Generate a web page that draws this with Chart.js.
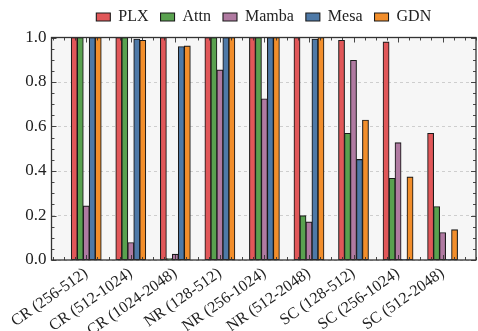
<!DOCTYPE html>
<html>
<head>
<meta charset="utf-8">
<script src="https://cdn.jsdelivr.net/npm/chart.js@4/dist/chart.umd.min.js"></script>
<style>
  html, body { margin: 0; padding: 0; background: #ffffff; }
  canvas { display: block; }
</style>
</head>
<body>
<canvas id="chart" width="478" height="331"></canvas>
<script>
// Task categories (task name with sequence-length range)
const categories = [
  'CR (256-512)', 'CR (512-1024)', 'CR (1024-2048)',
  'NR (128-512)', 'NR (256-1024)', 'NR (512-2048)',
  'SC (128-512)', 'SC (256-1024)', 'SC (512-2048)'
];

// Accuracy per model
const plx   = [1.000, 1.000, 1.000, 1.000, 1.000, 1.000, 0.987, 0.980, 0.569];
const attn  = [1.000, 1.000, 0.006, 1.000, 1.000, 0.199, 0.569, 0.367, 0.240];
const mamba = [0.243, 0.078, 0.026, 0.854, 0.724, 0.171, 0.897, 0.527, 0.123];
const mesa  = [1.000, 0.993, 0.959, 1.000, 1.000, 0.993, 0.452, 0.003, 0.003];
const gdn   = [1.000, 0.987, 0.962, 1.000, 1.000, 1.000, 0.629, 0.373, 0.136];

const seriesNames = ['PLX', 'Attn', 'Mamba', 'Mesa', 'GDN'];
const seriesValues = [plx, attn, mamba, mesa, gdn];
const seriesColors = ['#e15759', '#59a14f', '#b07aa1', '#4e79a7', '#f28e2b'];

// Y axis tick labels
const yTickValues = [0, 0.2, 0.4, 0.6, 0.8, 1.0];

const X_MIN = -0.78, X_MAX = 8.75;
const FRAME = '#333333';

// Light panel behind the plot area
const panelBackground = {
  id: 'panelBackground',
  beforeDraw(chart) {
    const { ctx, chartArea: a } = chart;
    ctx.save();
    ctx.fillStyle = '#f6f6f6';
    ctx.fillRect(a.left, a.top, a.right - a.left, a.bottom - a.top);
    ctx.restore();
  }
};

// Box frame with inward major/minor ticks on all four sides
const frameTicks = {
  id: 'frameTicks',
  afterDatasetsDraw(chart) {
    const { ctx, chartArea: a, scales } = chart;
    const xs = scales.x, ys = scales.y;
    ctx.save();
    ctx.strokeStyle = FRAME;
    ctx.lineWidth = 0.9;
    ctx.beginPath();
    // y ticks (major every 0.2, minor every 0.05)
    for (let k = 0; k <= 20; k++) {
      const v = k * 0.05;
      const len = (k % 4 === 0) ? 5 : 3;
      const py = Math.round(ys.getPixelForValue(v)) + 0.5;
      ctx.moveTo(a.left, py); ctx.lineTo(a.left + len, py);
      ctx.moveTo(a.right, py); ctx.lineTo(a.right - len, py);
    }
    // x ticks (major at each category, minor every quarter)
    for (let k = Math.ceil(X_MIN * 4); k <= Math.floor(X_MAX * 4); k++) {
      const v = k / 4;
      const len = (k % 4 === 0) ? 5 : 3;
      const px = Math.round(xs.getPixelForValue(v)) + 0.5;
      ctx.moveTo(px, a.bottom); ctx.lineTo(px, a.bottom - len);
      ctx.moveTo(px, a.top); ctx.lineTo(px, a.top + len);
    }
    ctx.stroke();
    ctx.lineWidth = 1.3;
    ctx.strokeRect(a.left, a.top, a.right - a.left, a.bottom - a.top);
    ctx.restore();
  }
};

Chart.defaults.font.family = "'Liberation Serif', 'Times New Roman', serif";
Chart.defaults.color = '#222222';

new Chart(document.getElementById('chart'), {
  type: 'bar',
  data: {
    datasets: seriesNames.map((name, s) => ({
      label: name,
      data: seriesValues[s].map((v, i) => ({ x: i, y: v })),
      backgroundColor: seriesColors[s],
      borderColor: '#1a1a1a',
      borderWidth: 1.1,
      borderSkipped: false,
      inflateAmount: 0.4,
      xAxisID: 'x',
      yAxisID: 'y',
      categoryPercentage: 0.672,
      barPercentage: 1.0
    }))
  },
  options: {
    responsive: false,
    animation: false,
    devicePixelRatio: 1,
    layout: { padding: { top: -3, right: 2, left: 0, bottom: 0 } },
    plugins: {
      legend: {
        position: 'top',
        fullSize: false,
        labels: {
          boxWidth: 14,
          boxHeight: 8,
          padding: 12,
          font: { size: 16 },
          color: '#222222'
        }
      },
      tooltip: { enabled: false }
    },
    scales: {
      x: {
        type: 'linear',
        position: 'bottom',
        offset: false,
        min: X_MIN,
        max: X_MAX,
        afterBuildTicks(scale) {
          scale.ticks = categories.map((_, i) => ({ value: i }));
        },
        afterFit(scale) { scale.height = 71; },
        grid: { display: false, drawTicks: false },
        border: { display: false },
        ticks: {
          autoSkip: false,
          minRotation: 35,
          maxRotation: 35,
          padding: 4,
          font: { size: 16 },
          color: '#222222',
          callback: (v) => categories[v] ?? ''
        }
      },
      xTop: {
        type: 'linear',
        position: 'top',
        offset: false,
        min: X_MIN,
        max: X_MAX,
        afterFit(scale) { scale.height = 2.5; },
        grid: { display: false, drawTicks: false },
        border: { display: false },
        ticks: { display: false }
      },
      y: {
        type: 'linear',
        position: 'left',
        min: 0,
        max: 1,
        afterBuildTicks(scale) {
          scale.ticks = yTickValues.map((v) => ({ value: v }));
        },
        afterFit(scale) { scale.width = 51.5; },
        grid: {
          color: '#c4c4c4',
          lineWidth: 0.8,
          drawTicks: false
        },
        border: { display: false, dash: [3, 3] },
        ticks: {
          padding: 5,
          font: { size: 17 },
          color: '#222222',
          callback: (v) => Number(v).toFixed(1)
        }
      }
    }
  },
  plugins: [panelBackground, frameTicks]
});
</script>
</body>
</html>
